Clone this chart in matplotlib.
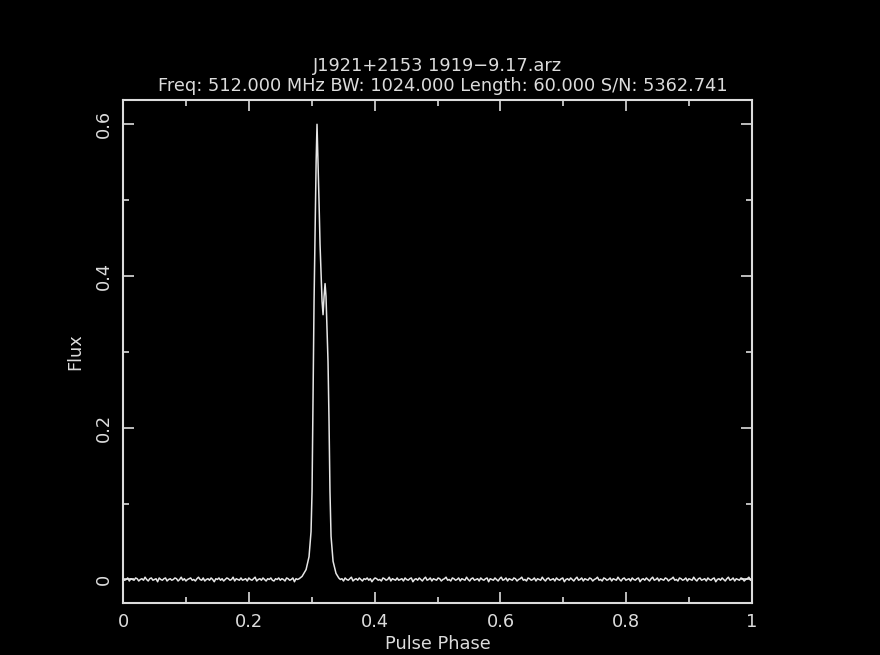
import numpy as np
import matplotlib
matplotlib.use("Agg")
import matplotlib.pyplot as plt

title_line1 = "J1921+2153 1919\u22129.17.arz"
title_line2 = "Freq: 512.000 MHz BW: 1024.000 Length: 60.000 S/N: 5362.741"
x_label = "Pulse Phase"
y_label = "Flux"
x_ticks = [0, 0.2, 0.4, 0.6, 0.8, 1]
x_ticklabels = ["0", "0.2", "0.4", "0.6", "0.8", "1"]
y_ticks = [0, 0.2, 0.4, 0.6]
y_ticklabels = ["0", "0.2", "0.4", "0.6"]

# pulse region (phase, flux)
pulse_phase = [0.2800, 0.2846, 0.2910, 0.2957, 0.2989, 0.3005, 0.3020, 0.3037,
               0.3053, 0.3070, 0.3084, 0.3100, 0.3116, 0.3132, 0.3164, 0.3180,
               0.3196, 0.3212, 0.3227, 0.3259, 0.3275, 0.3290, 0.3307, 0.3339,
               0.3386, 0.3430]
pulse_flux = [0.001, 0.004, 0.013, 0.030, 0.063, 0.116, 0.235, 0.367,
              0.456, 0.551, 0.600, 0.551, 0.498, 0.442, 0.367, 0.349,
              0.373, 0.390, 0.373, 0.287, 0.208, 0.116, 0.057, 0.024,
              0.008, 0.002]

# off-pulse baseline noise in units of 0.001 flux (estimated jitter)
left_noise = [1, -1, 0, 2, -2, 1, 0, -1, 2, 1, -2, 0, 1, -1, 3, 0, -2, 1, 2, -1,
              0, 1, -3, 2, 0, -1, 1, 2, -2, 0, 1, -1, 0, 2, 1, -2, 0, 3, -1, 1,
              -2, 0, 1, 2, -1, 0, -2, 1, 3, 0, -1, 2, -2, 0, 1, -1, 2, 0, -3, 1,
              0, 2, -1, 1, -2, 0, 2, 1, -1, 0, 3, -2, 1, 0, -1, 2, -1, 0, 1, -2,
              2, 0, -1, 1, 3, -2, 0, 1, -1, 2, 0, -2, 1, 0, 2, -1, -2, 1, 0, 2,
              -1, 1, 0, -2, 2, 1, -1, 0, 2, -3, 1, 0]
right_noise = [0, 1, -2, 2, 0, -1, 1, 3, -2, 0, 1, -1, 2, 0, -2, 1, 0, 2, -1, 1,
               -3, 0, 2, 1, -1, 0, -2, 2, 1, -1, 0, 3, -2, 1, 0, -1, 2, -1, 0, 1,
               -2, 2, 0, -1, 1, 2, -3, 0, 1, -1, 2, 0, -2, 1, 3, -1, 0, 2, -2, 1,
               0, -1, 2, 1, -2, 0, 1, 3, -1, 0, -2, 2, 1, -1, 0, 2, -2, 1, 0, -1,
               3, 0, -2, 1, 2, -1, 0, 1, -2, 2, 0, -1, 1, 2, -3, 1, 0, -1, 2, 0,
               -2, 1, 3, -1, 0, 2, -2, 1, 0, -1, 2, 1, -2, 0, 1, 3, -1, 0, -2, 2,
               1, -1, 0, 2, -2, 1, 0, -1, 3, 0, -2, 1, 2, -1, 0, 1, -2, 2, 0, -1,
               1, 2, -3, 0, 1, -1, 2, 0, -2, 1, 3, -1, 0, 2, -2, 1, 0, -1, 2, 1,
               -2, 0, 1, 3, -1, 0, -2, 2, 1, -1, 0, 2, -2, 1, 0, -1, 3, 0, -2, 1,
               2, -1, 0, 1, -2, 2, 0, -1, 1, 2, -3, 0, 1, -1, 2, 0, -2, 1, 3, -1,
               0, 2, -2, 1, 0, -1, 2, 1, -2, 0, 1, 3, -1, 0, -2, 2, 1, -1, 0, 2,
               -2, 1, 0, -1, 3, 0, -2, 1, 2, -1, 0, 1, -2, 2, 0, -1, 1, 2, -3, 0,
               1, -1, 2, 0, -2, 1, 3, -1, 0, 2, -2, 1, 0, -1, 2, 1, -2, 0, 1, 3,
               -1, 0]

fg = "#dcdcdc"
fs = 12.8
plt.rcParams['font.family'] = ['DejaVu Sans']

left_phase = np.linspace(0.0, 0.2775, len(left_noise))
right_phase = np.linspace(0.3455, 1.0, len(right_noise))
phase = np.concatenate([left_phase, pulse_phase, right_phase])
flux = np.concatenate([np.array(left_noise) * 0.001, pulse_flux,
                       np.array(right_noise) * 0.001])

fig = plt.figure(figsize=(8.8, 6.55), dpi=100, facecolor="black")
ax = fig.add_axes([0.1398, 0.0794, 0.7148, 0.7679], facecolor="black")
ax.plot(phase, flux, color="#e6e6e6", lw=1.1)

ax.set_xlim(0, 1)
ax.set_ylim(-0.031, 0.632)
ax.set_xticks(x_ticks)
ax.set_xticklabels(x_ticklabels)
ax.set_yticks(y_ticks)
ax.set_yticklabels(y_ticklabels, rotation=90, va="center")
ax.set_xticks(np.arange(0.1, 1.0, 0.2), minor=True)
ax.set_yticks(np.arange(0.1, 0.6, 0.2), minor=True)
ax.tick_params(which="both", direction="in", top=True, right=True,
               color=fg, labelcolor=fg, labelsize=fs, width=1.2)
ax.tick_params(which="major", length=8, pad=7)
ax.tick_params(which="minor", length=4)
ax.tick_params(axis="y", pad=7)
for s in ax.spines.values():
    s.set_color(fg)
    s.set_linewidth(1.5)

ax.set_xlabel(x_label, color=fg, fontsize=fs, labelpad=3)
ax.set_ylabel(y_label, color=fg, fontsize=fs, labelpad=8)

fig.text(0.497, 0.899, title_line1, color=fg, fontsize=fs, ha="center", va="center")
fig.text(0.503, 0.868, title_line2, color=fg, fontsize=fs, ha="center", va="center")

fig.savefig("out.png", dpi=100, facecolor="black")
